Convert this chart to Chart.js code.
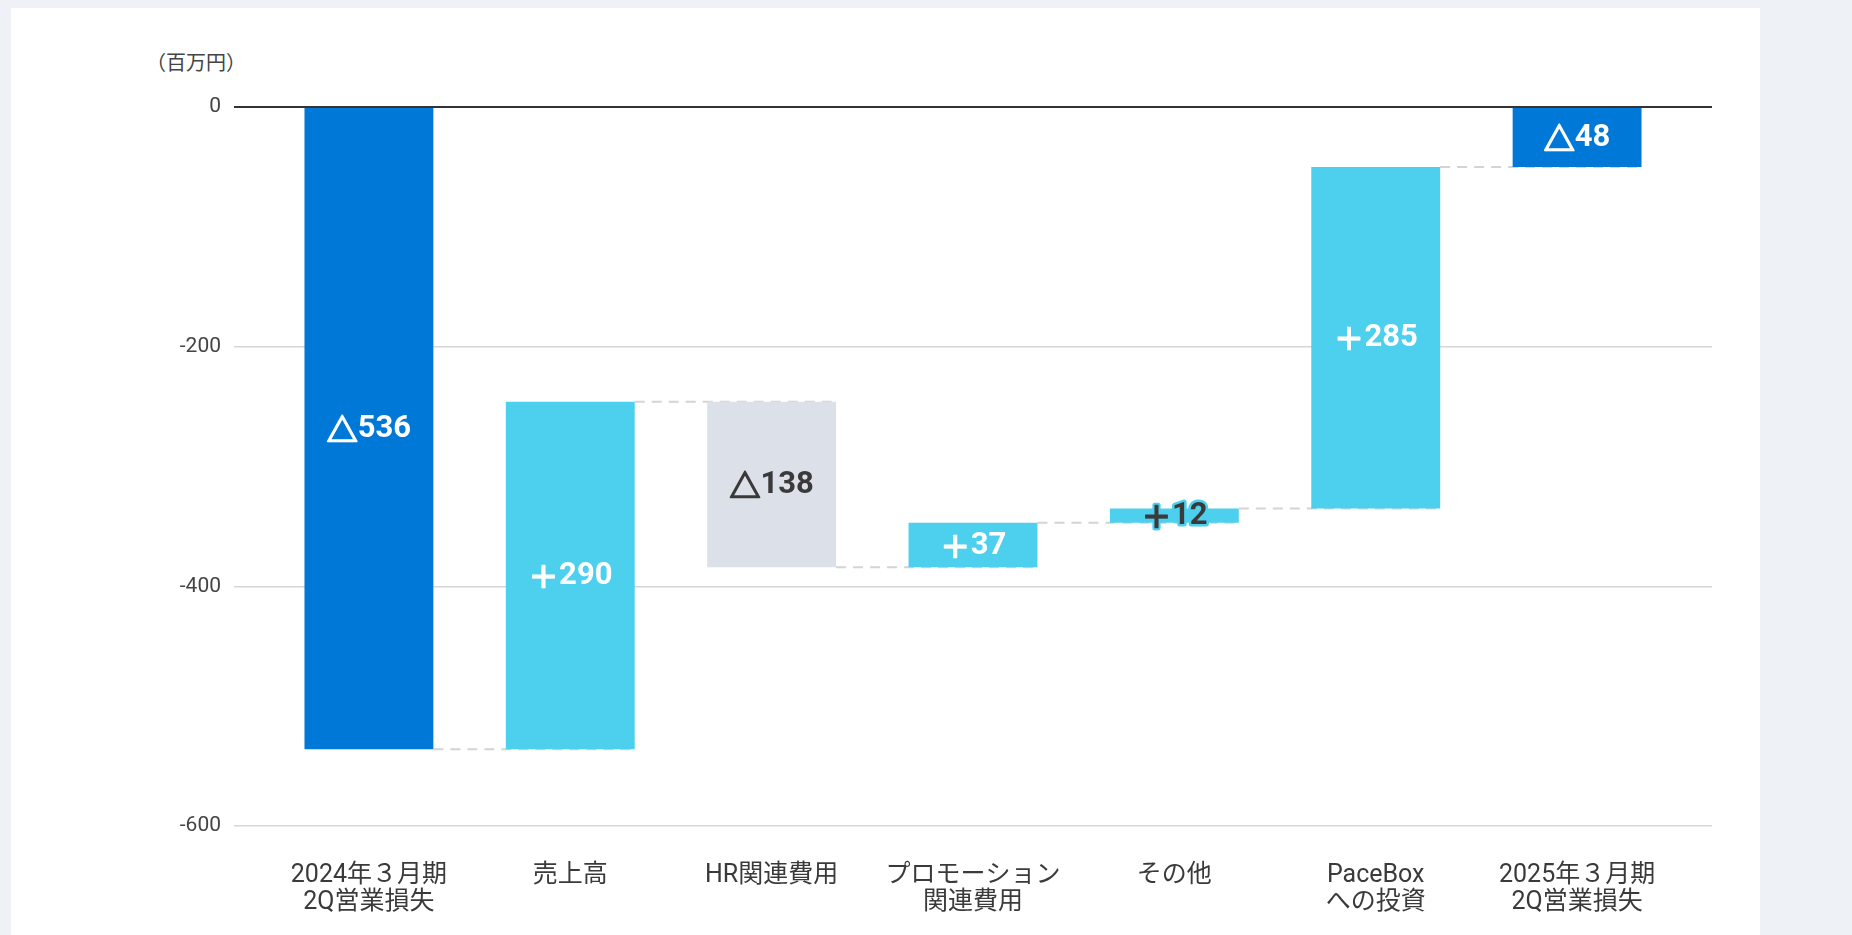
<!DOCTYPE html>
<html lang="ja">
<head>
<meta charset="utf-8">
<title>営業損失の増減要因</title>
<script src="https://cdn.jsdelivr.net/npm/chart.js@4.4.1/dist/chart.umd.min.js"></script>
<style>
  html, body { margin: 0; padding: 0; width: 1852px; height: 935px; background: #eef1f5; overflow: hidden; }
  .panel { position: absolute; left: 11px; top: 8px; width: 1749px; height: 927px; background: #fff; }
  .unit { position: absolute; left: 146px; top: 47px; font: 20px Roboto, "Noto Sans CJK JP", sans-serif; color: #444; }
  #wrap { position: absolute; left: 0; top: 0; width: 1852px; height: 935px; }
</style>
</head>
<body>
<div class="panel"></div>
<div class="unit">（百万円）</div>
<div id="wrap"><canvas id="waterfall" width="1852" height="935"></canvas></div>
<script>
// categories (two-line tick labels)
const categories = [
  ['2024年３月期', '2Q営業損失'],
  ['売上高'],
  ['HR関連費用'],
  ['プロモーション', '関連費用'],
  ['その他'],
  ['PaceBox', 'への投資'],
  ['2025年３月期', '2Q営業損失']
];
// floating bar ranges (start, end)
const barStart = [0, -536, -246, -384, -347, -335, 0];
const barEnd = [-536, -246, -384, -347, -335, -50, -50];
const labelSigns = ['△', '＋', '△', '＋', '＋', '＋', '△'];
const labelNumbers = ['536', '290', '138', '37', '12', '285', '48'];
const barKinds = ['total', 'up', 'down', 'up', 'up', 'up', 'total'];
// level of each dashed connector between bar i and bar i+1
const connectorLevels = [-536, -246, -384, -347, -335, -50];
const yTicks = [0, -200, -400, -600];

const colors = { total: '#0078d7', up: '#4dcfee', down: '#dce1e9' };
const labelColors = { total: '#ffffff', up: '#ffffff', down: '#3a3a3a' };
const FONT = 'Roboto, "Noto Sans CJK JP", sans-serif';
const BAR_PCT = 0.64;

const barData = categories.map((c, i) => ({ x: i, y: [barStart[i], barEnd[i]] }));

const connectorData = [];
connectorLevels.forEach((lv, i) => {
  connectorData.push({ x: i + BAR_PCT / 2, y: lv });
  connectorData.push({ x: i + 1 + BAR_PCT / 2, y: lv });
  connectorData.push({ x: i + 1 + BAR_PCT / 2 + 0.01, y: null });
});

// value labels in the middle of each bar
const barLabels = {
  id: 'barLabels',
  afterDatasetsDraw(chart) {
    const meta = chart.getDatasetMeta(0);
    const ctx = chart.ctx;
    const signFont = 'bold 31px "Noto Sans CJK JP", sans-serif';
    const numFont = 'bold 31px Roboto, sans-serif';
    ctx.save();
    ctx.textAlign = 'left';
    ctx.textBaseline = 'middle';
    ctx.lineJoin = 'round';
    meta.data.forEach((bar, i) => {
      const y = (bar.y + bar.base) / 2 + 1;
      const sign = labelSigns[i], num = labelNumbers[i];
      ctx.font = signFont;
      const ws = ctx.measureText(sign).width;
      ctx.font = numFont;
      const wn = ctx.measureText(num).width;
      const x0 = bar.x - (ws + wn) / 2;
      const small = Math.abs(bar.base - bar.y) < 30;
      const fill = small ? '#3a3a3a' : labelColors[barKinds[i]];
      if (small) {
        ctx.lineWidth = 5;
        ctx.strokeStyle = colors[barKinds[i]];
        ctx.font = signFont;
        ctx.strokeText(sign, x0, y);
        ctx.font = numFont;
        ctx.strokeText(num, x0 + ws, y);
      }
      ctx.fillStyle = fill;
      ctx.strokeStyle = fill;
      ctx.font = signFont;
      ctx.lineWidth = sign === '△' ? 1.6 : 0.8;
      ctx.strokeText(sign, x0, y);
      ctx.fillText(sign, x0, y);
      ctx.font = numFont;
      ctx.fillText(num, x0 + ws, y);
    });
    ctx.restore();
  }
};

Chart.defaults.font.family = FONT;
Chart.defaults.color = '#444';

new Chart(document.getElementById('waterfall'), {
  type: 'bar',
  data: {
    datasets: [
      {
        type: 'bar',
        data: barData,
        backgroundColor: barKinds.map(k => colors[k]),
        barPercentage: BAR_PCT,
        categoryPercentage: 1,
        order: 1
      },
      {
        type: 'line',
        data: connectorData,
        borderColor: '#d4d4d4',
        borderWidth: 2,
        borderDash: [10, 7],
        pointRadius: 0,
        spanGaps: false,
        order: 2
      }
    ]
  },
  options: {
    responsive: false,
    animation: false,
    layout: { padding: { top: 107, right: 140, left: 0, bottom: 0 } },
    plugins: { legend: { display: false }, tooltip: { enabled: false } },
    scales: {
      x: {
        type: 'linear',
        offset: false,
        min: -0.67,
        max: 6.67,
        afterBuildTicks: s => { s.ticks = categories.map((c, i) => ({ value: i })); },
        afterFit: s => { s.height = 109; },
        grid: { display: false, drawTicks: false, offset: false },
        border: { display: false },
        ticks: {
          callback: v => categories[v],
          padding: 36,
          maxRotation: 0,
          autoSkip: false,
          color: '#3a3a3a',
          font: { size: 25, lineHeight: 1.08 }
        }
      },
      y: {
        min: -600,
        max: 0,
        afterBuildTicks: s => { s.ticks = yTicks.map(v => ({ value: v })); },
        afterFit: s => { s.width = 234; },
        border: { display: false },
        grid: {
          drawTicks: false,
          color: c => c.tick.value === 0 ? '#333333' : '#d6d6d6',
          lineWidth: c => c.tick.value === 0 ? 2 : 1.5
        },
        ticks: { padding: 13, color: '#444', font: { size: 21 } }
      }
    }
  },
  plugins: [barLabels]
});
</script>
</body>
</html>
